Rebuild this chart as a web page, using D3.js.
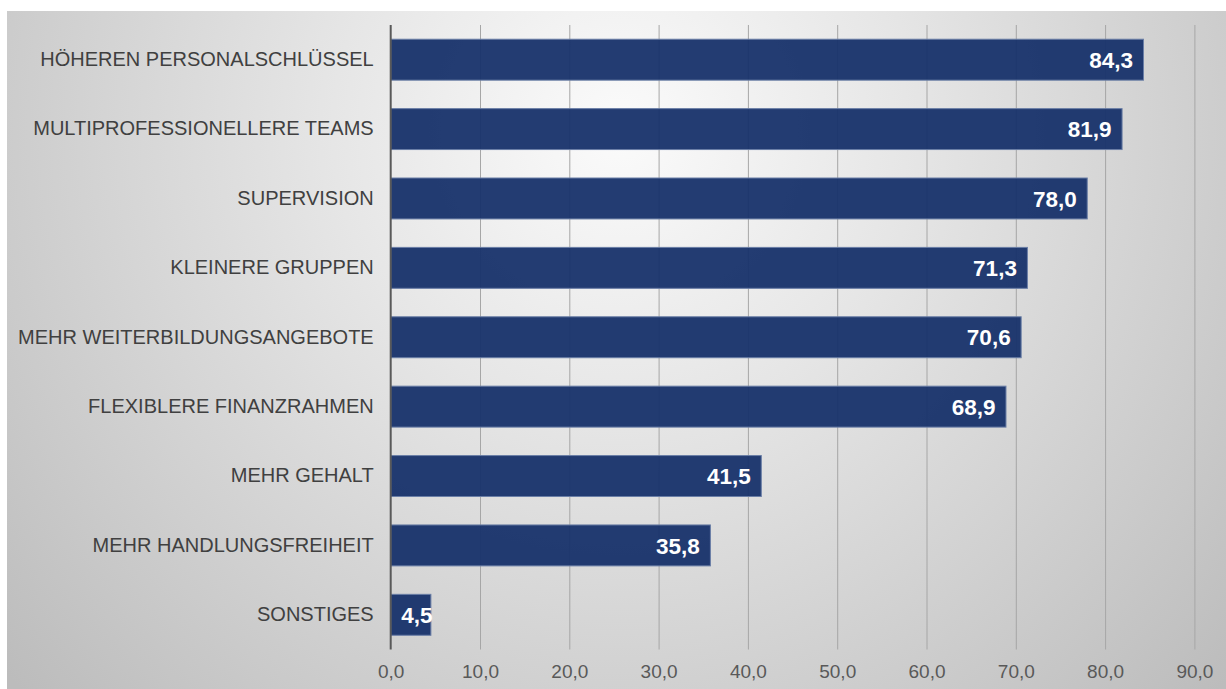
<!DOCTYPE html>
<html>
<head>
<meta charset="utf-8">
<script src="https://cdn.jsdelivr.net/npm/d3@7"></script>
<style>
  html, body { margin: 0; padding: 0; background: #ffffff; }
  svg { display: block; }
</style>
</head>
<body>
<svg id="chart" width="1226" height="689"></svg>
<script>
// Survey answers, top to bottom, with their shares in percent
const categories = [
  "HÖHEREN PERSONALSCHLÜSSEL",
  "MULTIPROFESSIONELLERE TEAMS",
  "SUPERVISION",
  "KLEINERE GRUPPEN",
  "MEHR WEITERBILDUNGSANGEBOTE",
  "FLEXIBLERE FINANZRAHMEN",
  "MEHR GEHALT",
  "MEHR HANDLUNGSFREIHEIT",
  "SONSTIGES"
];
const values = [84.3, 81.9, 78.0, 71.3, 70.6, 68.9, 41.5, 35.8, 4.5];
const tickValues = [0, 10, 20, 30, 40, 50, 60, 70, 80, 90];

const W = 1226, H = 689;
const svg = d3.select("#chart");

// Decimal comma formatting
const fmt = v => d3.format(".1f")(v).replace(".", ",");

// Background panel with soft radial shading
const defs = svg.append("defs");
const grad = defs.append("radialGradient")
  .attr("id", "bg")
  .attr("gradientUnits", "userSpaceOnUse")
  .attr("cx", 620).attr("cy", 130).attr("r", 820);
grad.append("stop").attr("offset", "0").attr("stop-color", "#fbfbfb");
grad.append("stop").attr("offset", "0.35").attr("stop-color", "#e6e6e6");
grad.append("stop").attr("offset", "1").attr("stop-color", "#bcbcbc");

svg.append("rect")
  .attr("x", 7).attr("y", 11)
  .attr("width", W - 7).attr("height", H - 11)
  .attr("fill", "url(#bg)");

const margin = { left: 390.7, right: W - 1194.4, top: 25, bottom: H - 649.5 };

const x = d3.scaleLinear()
  .domain([0, 90])
  .range([margin.left, W - margin.right]);

const y = d3.scaleBand()
  .domain(categories)
  .range([margin.top, H - margin.bottom])
  .paddingInner(0.41)
  .paddingOuter(0.205);

// Vertical gridlines
const grid = svg.append("g")
  .attr("transform", `translate(0,${H - margin.bottom})`)
  .call(d3.axisBottom(x)
    .tickValues(tickValues.slice(1))
    .tickSize(-(H - margin.bottom - margin.top))
    .tickFormat(""));
grid.select(".domain").remove();
grid.selectAll(".tick line")
  .attr("stroke", "#a6a6a6")
  .attr("stroke-width", 1);

// Bars
svg.append("g")
  .selectAll("rect")
  .data(values)
  .join("rect")
  .attr("x", x(0))
  .attr("y", (d, i) => y(categories[i]))
  .attr("width", d => x(d) - x(0))
  .attr("height", y.bandwidth())
  .attr("fill", "#17316a")
  .attr("fill-opacity", 0.95)
  .attr("stroke", "#6a7ea6")
  .attr("stroke-width", 1);

// Value labels inside bar ends; short bars keep the label clear of the baseline
const pad = 10.5;
svg.append("g")
  .selectAll("text")
  .data(values)
  .join("text")
  .attr("y", (d, i) => y(categories[i]) + y.bandwidth() / 2)
  .attr("dy", "0.36em")
  .attr("text-anchor", "end")
  .attr("font-family", "'Liberation Sans', Arial, sans-serif")
  .attr("font-weight", "bold")
  .attr("font-size", "22.5px")
  .attr("fill", "#ffffff")
  .text(d => fmt(d))
  .attr("x", function (d) {
    const w = this.getComputedTextLength();
    return Math.max(x(d) - pad, x(0) + pad + w);
  });

// Category axis
const yAxis = svg.append("g")
  .attr("transform", `translate(${x(0)},0)`)
  .call(d3.axisLeft(y).tickSize(0).tickPadding(17));
yAxis.select(".domain").remove();
yAxis.selectAll("text")
  .attr("font-family", "'Liberation Sans', Arial, sans-serif")
  .attr("font-size", "20px")
  .attr("fill", "#404040");

// Value axis labels
const xAxis = svg.append("g")
  .attr("transform", `translate(0,${H - margin.bottom})`)
  .call(d3.axisBottom(x).tickValues(tickValues).tickSize(0).tickPadding(15).tickFormat(fmt));
xAxis.select(".domain").remove();
xAxis.selectAll("text")
  .attr("font-family", "'Liberation Sans', Arial, sans-serif")
  .attr("font-size", "19px")
  .attr("fill", "#595959");

// Baseline at zero
svg.append("line")
  .attr("x1", x(0)).attr("x2", x(0))
  .attr("y1", margin.top).attr("y2", H - margin.bottom)
  .attr("stroke", "#595959")
  .attr("stroke-width", 2);
</script>
</body>
</html>
